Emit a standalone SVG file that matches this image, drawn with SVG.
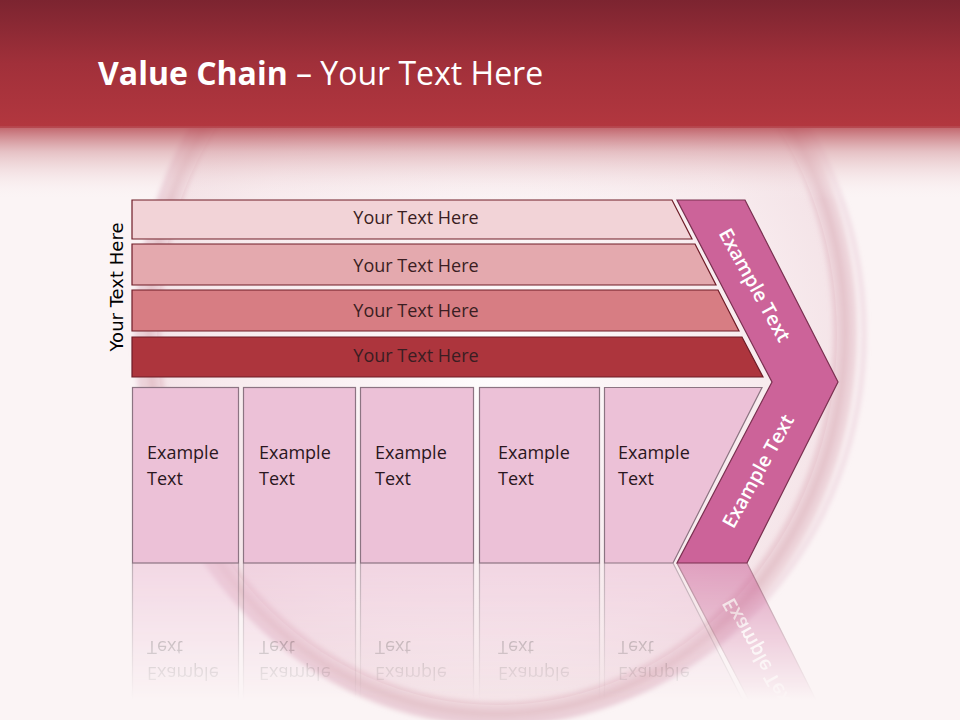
<svg xmlns="http://www.w3.org/2000/svg" xmlns:xlink="http://www.w3.org/1999/xlink" width="960" height="720" viewBox="0 0 960 720">
<defs>
<style>
.bar{stroke:#6e1c27;stroke-width:1.2}
.box{fill:#ecc1d7;stroke:#8c7482;stroke-width:1.2}
.bt{font-family:"Open Sans","Noto Sans",sans-serif;font-size:18px;fill:#3a1d22;text-anchor:middle}
.et{font-family:"Open Sans","Noto Sans",sans-serif;font-size:18px;fill:#2a1620}
.ct{font-family:"Open Sans","Noto Sans",sans-serif;font-size:19.5px;font-weight:600;fill:#ffffff;text-anchor:middle}
</style>
<filter id="soft" x="-10%" y="-10%" width="120%" height="120%">
<feGaussianBlur stdDeviation="2.5"/>
</filter>
<linearGradient id="band" x1="0" y1="0" x2="0" y2="1" gradientUnits="objectBoundingBox">
<stop offset="0" stop-color="#7c2430"/>
<stop offset="0.5" stop-color="#a1303a"/>
<stop offset="1" stop-color="#b3373f"/>
</linearGradient>
<linearGradient id="fadeband" x1="0" y1="126" x2="0" y2="200" gradientUnits="userSpaceOnUse">
<stop offset="0" stop-color="#b5464e" stop-opacity="0.85"/>
<stop offset="0.35" stop-color="#d8a0a5" stop-opacity="0.6"/>
<stop offset="1" stop-color="#fbf4f5" stop-opacity="0"/>
</linearGradient>
<radialGradient id="disk" cx="497" cy="360" r="360" gradientUnits="userSpaceOnUse">
<stop offset="0" stop-color="#ffffff" stop-opacity="0.9"/>
<stop offset="0.8" stop-color="#f6e6ea" stop-opacity="0.7"/>
<stop offset="1" stop-color="#efd8de" stop-opacity="0.6"/>
</radialGradient>
<linearGradient id="refl" x1="0" y1="563" x2="0" y2="700" gradientUnits="userSpaceOnUse">
<stop offset="0" stop-color="#ffffff" stop-opacity="0.55"/>
<stop offset="1" stop-color="#ffffff" stop-opacity="0"/>
</linearGradient>
<mask id="fade" maskUnits="userSpaceOnUse" x="0" y="563" width="960" height="157">
<rect x="0" y="563" width="960" height="157" fill="url(#refl)"/>
</mask>
</defs>

<g id="background">
<rect x="0" y="0" width="960" height="720" fill="#fbf4f5"/>
<ellipse cx="497" cy="335" rx="340" ry="370" fill="url(#disk)"/>
<g filter="url(#soft)">
<ellipse cx="497" cy="332" rx="348" ry="382" fill="none" stroke="#dcaab8" stroke-opacity="0.45" stroke-width="24"/>
<ellipse cx="497" cy="332" rx="348" ry="382" fill="none" stroke="#c8909e" stroke-opacity="0.22" stroke-width="8"/>
<ellipse cx="500" cy="334" rx="364" ry="388" fill="none" stroke="#e6c4d2" stroke-opacity="0.6" stroke-width="4"/>
</g>
<rect x="0" y="0" width="960" height="128" fill="url(#band)"/>
<rect x="0" y="126" width="960" height="76" fill="url(#fadeband)"/>
</g>

<g id="title">
<text x="98" y="85" font-family="'Open Sans','Noto Sans',sans-serif" font-size="32" fill="#ffffff"><tspan font-weight="700">Value Chain</tspan> – Your Text Here</text>
</g>

<g id="side-label">
<text transform="translate(123,287) rotate(-90)" font-family="'DejaVu Sans',sans-serif" font-size="18" fill="#000000" text-anchor="middle">Your Text Here</text>
</g>

<g id="bar1">
<polygon class="bar" fill="#f2d3d7" points="132,200 672,200 692,239 132,239"/>
<text class="bt" x="416" y="224">Your Text Here</text>
</g>
<g id="bar2">
<polygon class="bar" fill="#e4a9ae" points="132,244 695,244 716,285 132,285"/>
<text class="bt" x="416" y="272">Your Text Here</text>
</g>
<g id="bar3">
<polygon class="bar" fill="#d77d83" points="132,290 718,290 739,331 132,331"/>
<text class="bt" x="416" y="317">Your Text Here</text>
</g>
<g id="bar4">
<polygon class="bar" fill="#ad353d" points="132,337 742,337 763,377 132,377"/>
<text class="bt" x="416" y="362">Your Text Here</text>
</g>

<g id="lower">
<g id="box1">
<rect class="box" x="132.5" y="387.5" width="106" height="175.5"/>
<text class="et" x="147" y="459">Example</text>
<text class="et" x="147" y="485">Text</text>
</g>
<g id="box2">
<rect class="box" x="243.5" y="387.5" width="112" height="175.5"/>
<text class="et" x="259" y="459">Example</text>
<text class="et" x="259" y="485">Text</text>
</g>
<g id="box3">
<rect class="box" x="360.5" y="387.5" width="113" height="175.5"/>
<text class="et" x="375" y="459">Example</text>
<text class="et" x="375" y="485">Text</text>
</g>
<g id="box4">
<rect class="box" x="479.5" y="387.5" width="120" height="175.5"/>
<text class="et" x="498" y="459">Example</text>
<text class="et" x="498" y="485">Text</text>
</g>
<g id="box5">
<polygon class="box" points="604.5,387.5 762,387.5 673,563 604.5,563"/>
<text class="et" x="618" y="459">Example</text>
<text class="et" x="618" y="485">Text</text>
</g>
<g id="chevron">
<polygon fill="#cc6399" stroke="#7a3050" stroke-width="1.2" points="677,200 745,200 838,382 747,563 677,563 772,382"/>
<text class="ct" transform="translate(755,285) rotate(61)" dy="7">Example Text</text>
<text class="ct" transform="translate(758,471) rotate(-61)" dy="7">Example Text</text>
</g>
</g>

<g id="reflection" mask="url(#fade)">
<use xlink:href="#lower" href="#lower" transform="translate(0,1126) scale(1,-1)"/>
</g>
</svg>
